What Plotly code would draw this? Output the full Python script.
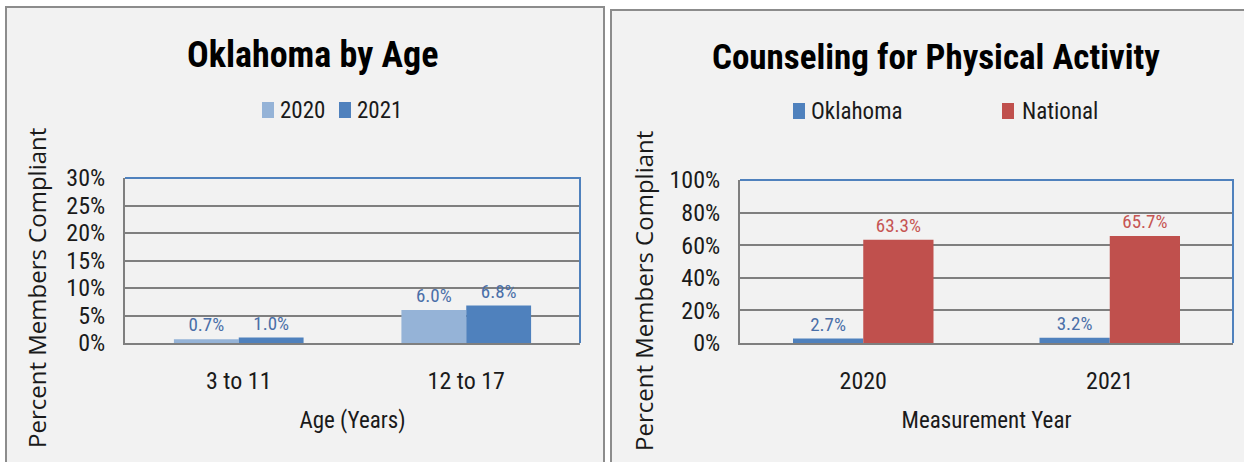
import plotly.graph_objects as go

W, H = 1244, 462

# ---- data ----
age_groups = ["3 to 11", "12 to 17"]
age_2020 = [0.7, 6.0]
age_2021 = [1.0, 6.8]

years = ["2020", "2021"]
ok_values = [2.7, 3.2]
nat_values = [63.3, 65.7]

left_ticks = [0, 5, 10, 15, 20, 25, 30]
right_ticks = [0, 20, 40, 60, 80, 100]

C2020 = "#95b3d7"
C2021 = "#4f81bd"
CNAT = "#c0504d"
BLUE_TXT = "#4a6fa8"
RED_TXT = "#c65553"
GRID = "#7f7f7f"
BG = "#f2f2f2"
FONT = "Liberation Sans Narrow, Roboto Condensed, Liberation Sans, sans-serif"
TITLE_FONT = "Open Sans, sans-serif"

def px(x):
    return x / W

def py(y):
    return 1 - y / H

fig = go.Figure()

lab_font = dict(size=19, family=FONT)

series = [
    (age_groups, age_2020, "2020", C2020, BLUE_TXT, "x", "y"),
    (age_groups, age_2021, "2021", C2021, BLUE_TXT, "x", "y"),
    (years, ok_values, "Oklahoma", C2021, BLUE_TXT, "x2", "y2"),
    (years, nat_values, "National", CNAT, RED_TXT, "x2", "y2"),
]
for xs, ys, name, col, tcol, xa, ya in series:
    fig.add_trace(go.Bar(x=xs, y=ys, name=name, marker=dict(color=col, line_width=0),
                         text=[f"{v:.1f}%" for v in ys], textposition="outside",
                         textfont=dict(color=tcol, **lab_font), cliponaxis=False,
                         xaxis=xa, yaxis=ya, showlegend=False))

axis_font = dict(family=FONT, size=24, color="#1a1a1a")
xtitle_font = dict(family=FONT, size=23, color="#1a1a1a")

def xax(domain, anchor, title):
    return dict(domain=domain, anchor=anchor, showgrid=False, showline=True,
                linecolor=GRID, linewidth=2, ticks="", tickfont=axis_font,
                ticklabelstandoff=15,
                title=dict(text=title, font=xtitle_font, standoff=18), fixedrange=True)

def yax(domain, anchor, rng, ticks):
    return dict(domain=domain, anchor=anchor, range=rng, tickvals=ticks,
                ticktext=[f"{t}%" for t in ticks], showgrid=True, gridcolor=GRID,
                gridwidth=2, showline=True, linecolor=GRID, linewidth=2,
                zeroline=False, ticks="", tickfont=axis_font, ticklabelstandoff=13,
                fixedrange=True)

ytitle_font = dict(family=TITLE_FONT, size=24, color="#1a1a1a")
legend_font = dict(family=FONT, size=23, color="#1a1a1a")

annotations = [
    dict(text="<b>Oklahoma by Age</b>", x=px(312), y=py(55), xref="paper", yref="paper",
         xanchor="center", yanchor="middle", showarrow=False,
         font=dict(family=FONT, size=36, color="black")),
    dict(text="<b>Counseling for Physical Activity</b>", x=px(936), y=py(58), xref="paper",
         yref="paper", xanchor="center", yanchor="middle", showarrow=False,
         font=dict(family=FONT, size=35, color="black")),
    dict(text="Percent Members Compliant", x=px(36), y=py(288), xref="paper", yref="paper",
         xanchor="center", yanchor="middle", textangle=-90, showarrow=False, font=ytitle_font),
    dict(text="Percent Members Compliant", x=px(643), y=py(291), xref="paper", yref="paper",
         xanchor="center", yanchor="middle", textangle=-90, showarrow=False, font=ytitle_font),
]

shapes = [
    dict(type="rect", xref="paper", yref="paper", x0=px(6), x1=px(604), y0=py(470), y1=py(7),
         fillcolor=BG, line=dict(color="#8c8c8c", width=2), layer="below"),
    dict(type="rect", xref="paper", yref="paper", x0=px(611), x1=px(1260), y0=py(470), y1=py(10),
         fillcolor=BG, line=dict(color="#8c8c8c", width=2), layer="below"),
    # blue top and right borders of the plot areas
    dict(type="path", xref="x domain", yref="y domain", path="M 0 1 L 1 1 L 1 0",
         line=dict(color=C2021, width=2)),
    dict(type="path", xref="x2 domain", yref="y2 domain", path="M 0 1 L 1 1 L 1 0",
         line=dict(color=C2021, width=2)),
]

# legends: (name, colour, swatch left x, text left x, centre y) in pixels
legend_items = [
    ("2020", C2020, 262, 278, 110),
    ("2021", C2021, 339, 355, 110),
    ("Oklahoma", C2021, 793, 809, 111),
    ("National", CNAT, 1002, 1020, 111),
]
for name, col, sx, tx, cy in legend_items:
    shapes.append(dict(type="rect", xref="paper", yref="paper", x0=px(sx), x1=px(sx + 12),
                       y0=py(cy + 8), y1=py(cy - 8), fillcolor=col, line_width=0))
    annotations.append(dict(text=name, x=px(tx), y=py(cy), xref="paper", yref="paper",
                            xanchor="left", yanchor="middle", showarrow=False, font=legend_font))

fig.update_layout(
    width=W, height=H,
    margin=dict(l=0, r=0, t=0, b=0, autoexpand=False),
    paper_bgcolor="white",
    plot_bgcolor=BG,
    barmode="group",
    bargap=0.43,
    bargroupgap=0,
    showlegend=False,
    xaxis=xax([px(125), px(580)], "y", "Age (Years)"),
    yaxis=yax([py(343), py(178)], "x", [0, 30], left_ticks),
    xaxis2=xax([px(740), px(1233)], "y2", "Measurement Year"),
    yaxis2=yax([py(343), py(180)], "x2", [0, 100], right_ticks),
    annotations=annotations,
    shapes=shapes,
)

fig.write_html("out.html", config={"displayModeBar": False},
               post_script="document.body.style.margin='0';document.body.style.overflow='hidden';")
